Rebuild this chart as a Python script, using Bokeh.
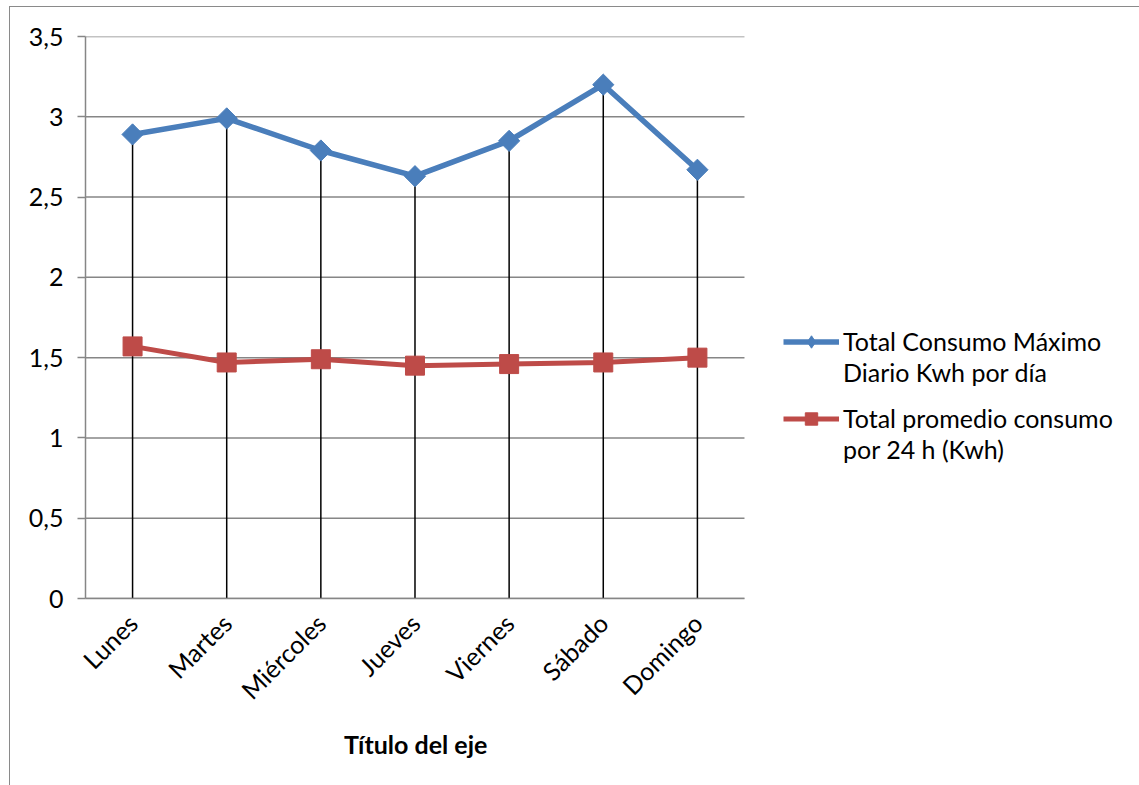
import math
from bokeh.plotting import figure
from bokeh.models import (ColumnDataSource, FixedTicker, Legend, LegendItem,
                          Range1d, InlineStyleSheet, Title)
from bokeh.embed import file_html
from bokeh.resources import INLINE

# ---- data ----
days = ["Lunes", "Martes", "Miércoles", "Jueves", "Viernes", "Sábado", "Domingo"]
max_daily = [2.89, 2.99, 2.79, 2.63, 2.85, 3.20, 2.67]
avg_24h = [1.57, 1.47, 1.49, 1.45, 1.46, 1.47, 1.50]
y_ticks = [0, 0.5, 1, 1.5, 2, 2.5, 3, 3.5]
y_tick_labels = ["0", "0,5", "1", "1,5", "2", "2,5", "3", "3,5"]
legend_lines_1 = ["Total Consumo Máximo", "Diario Kwh por día"]
legend_lines_2 = ["Total promedio consumo", "por 24 h (Kwh)"]
x_title = "Título del eje"

FONT = "Lato"
BLUE = "#4A7EBB"
RED = "#BE4B48"
GRID = "#868686"

# layout constants (pixels)
W, H = 1139, 785
LEFT, TOP, BOTTOM = 85, 36, 187
CAT_PX = 94.14  # width of one category band
n = len(days)
frame_w = W - LEFT
x_end = -0.5 + frame_w / CAT_PX

xs = list(range(n))
src = ColumnDataSource(dict(x=xs, maxv=max_daily, avgv=avg_24h, zero=[0] * n))
grid_src = ColumnDataSource(dict(y=y_ticks, x0=[-0.5] * len(y_ticks),
                                 x1=[n - 0.5] * len(y_ticks)))

border_css = InlineStyleSheet(css="""
:host { position: relative; }
:host::after {
  content: ''; position: absolute; left: 9px; top: 6px; right: 0; bottom: 0;
  border-left: 1.5px solid #8a8a8a; border-top: 1.5px solid #8a8a8a;
  pointer-events: none;
}
""")

p = figure(width=W, height=H, x_range=Range1d(-0.5, x_end),
           y_range=Range1d(0, 3.5), output_backend="svg", toolbar_location=None,
           min_border_left=LEFT, min_border_right=0, min_border_top=TOP,
           min_border_bottom=BOTTOM, stylesheets=[border_css])
p.outline_line_color = None
p.background_fill_color = "white"
p.border_fill_color = "white"
p.xgrid.grid_line_color = None
p.ygrid.grid_line_color = None

# horizontal gridlines limited to the plot area
p.segment(x0="x0", y0="y", x1="x1", y1="y", source=grid_src,
          line_color=GRID, line_width=1.5)

# drop lines
p.segment(x0="x", y0="zero", x1="x", y1="maxv", source=src,
          line_color="black", line_width=1.5)

lb = p.line("x", "maxv", source=src, line_color=BLUE, line_width=5.5)
sb = p.scatter("x", "maxv", source=src, marker="square", angle=math.pi / 4,
               size=15, fill_color=BLUE, line_color=BLUE)
lr = p.line("x", "avgv", source=src, line_color=RED, line_width=5)
sr = p.scatter("x", "avgv", source=src, marker="square", size=19,
               fill_color=RED, line_color=RED)

# legend-only diamond (no data points drawn)
nan_src = ColumnDataSource(dict(x=[float("nan")], y=[float("nan")]))
sb_leg = p.scatter("x", "y", source=nan_src, marker="diamond", size=15,
                   fill_color=BLUE, line_color=BLUE)

# axes
p.yaxis.ticker = FixedTicker(ticks=y_ticks)
p.yaxis.major_label_overrides = {t: l for t, l in zip(y_ticks, y_tick_labels)}
p.yaxis.axis_line_color = GRID
p.yaxis.axis_line_width = 1.5
p.yaxis.major_tick_line_color = GRID
p.yaxis.major_tick_line_width = 1.5
p.yaxis.major_tick_out = 8
p.yaxis.major_tick_in = 0
p.yaxis.minor_tick_line_color = None
p.yaxis.major_label_text_font = FONT
p.yaxis.major_label_text_font_size = "25px"
p.yaxis.major_label_text_color = "black"
p.yaxis.major_label_standoff = 14

p.xaxis.bounds = (-0.5, n - 0.5)
p.xaxis.ticker = FixedTicker(ticks=xs)
p.xaxis.major_label_overrides = {i: d for i, d in zip(xs, days)}
p.xaxis.axis_line_color = GRID
p.xaxis.axis_line_width = 1.5
p.xaxis.major_tick_line_color = None
p.xaxis.minor_tick_line_color = None
p.xaxis.major_label_orientation = math.pi / 4
p.xaxis.major_label_text_font = FONT
p.xaxis.major_label_text_font_size = "25px"
p.xaxis.major_label_text_color = "black"
p.xaxis.major_label_standoff = 14

# axis title centred under the category area
title_w = 142
plot_center = LEFT + n * CAT_PX / 2
p.add_layout(Title(text=x_title, align="left",
                   offset=plot_center - LEFT - title_w / 2,
                   text_font=FONT, text_font_style="bold",
                   text_font_size="25px", text_color="black",
                   standoff=16), "below")


def make_legend(lines, renderers, y_loc):
    items = [LegendItem(label=lines[0], renderers=renderers),
             LegendItem(label=lines[1], renderers=[])]
    return Legend(items=items, location=(783 - LEFT, y_loc), glyph_width=56,
                  glyph_height=31, label_height=31,
                  label_text_font=FONT, label_text_font_size="25px",
                  label_text_color="black", label_standoff=4, spacing=0,
                  padding=0, margin=0, border_line_color=None,
                  background_fill_alpha=0)


frame_bottom = H - BOTTOM
p.add_layout(make_legend(legend_lines_1, [lb, sb_leg], frame_bottom - 387.5))
p.add_layout(make_legend(legend_lines_2, [lr, sr], frame_bottom - 464.5))

open("out.html", "w").write(file_html(p, INLINE))
